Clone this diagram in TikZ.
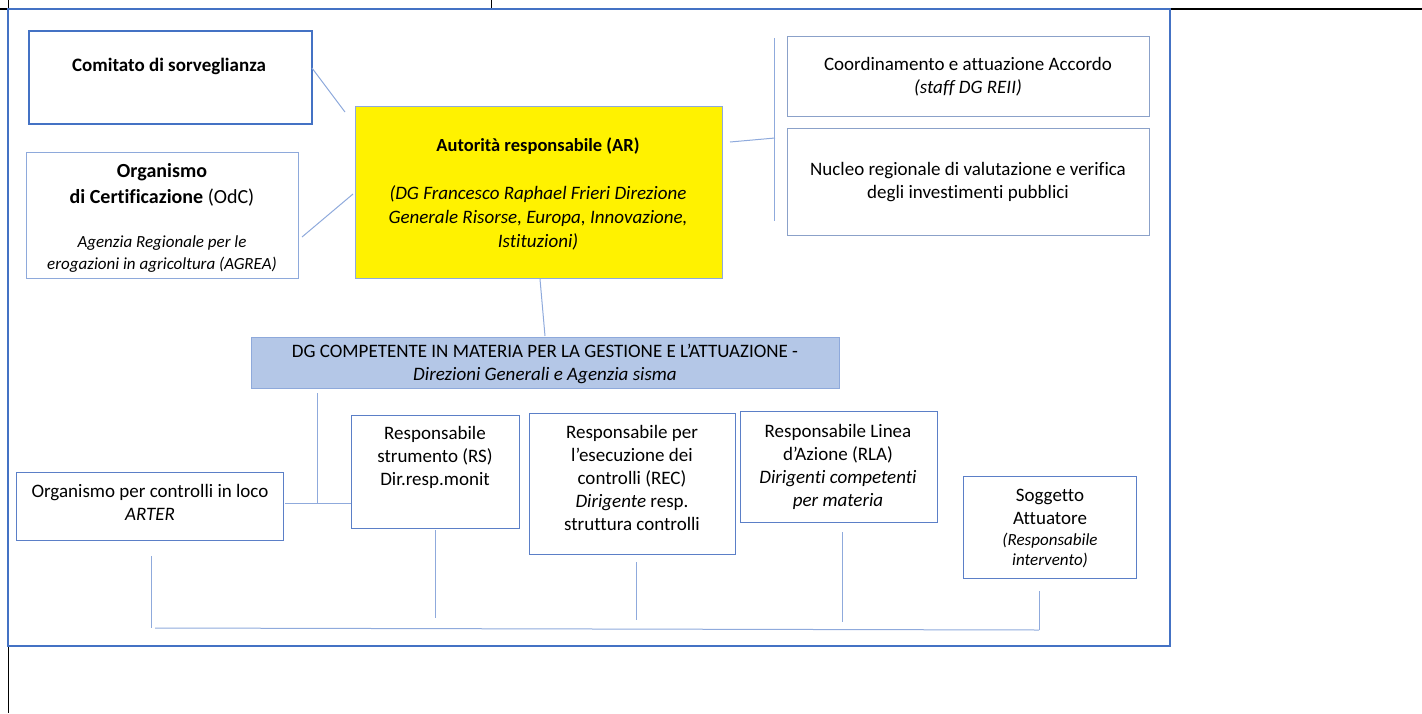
\documentclass[tikz,border=0pt]{standalone}
\usepackage{fontspec}
\setmainfont{Carlito}[Ligatures=NoCommon]
\definecolor{frameblue}{HTML}{4472C4}
\definecolor{boxblue}{HTML}{5B7FC7}
\definecolor{lightedge}{HTML}{8EA9DB}
\definecolor{linkblue}{HTML}{8FAADC}
\definecolor{bandfill}{HTML}{B4C7E7}
\tikzset{
  boxbase/.style={rectangle, draw=boxblue, line width=1pt, fill=white, anchor=north west, inner sep=0pt},
  strongbox/.style={boxbase, draw=frameblue, line width=1.6pt},
  softbox/.style={boxbase, draw=lightedge},
  txt/.style={align=center, inner sep=0pt, font=\fontsize{19}{23}\selectfont},
  link/.style={draw=linkblue, line width=1pt},
}
\begin{document}
\begin{tikzpicture}[x=1pt,y=-1pt]
\useasboundingbox (0,0) rectangle (1422,713);
% page lines
\draw[black, line width=1.4pt] (0,9) -- (1422,9);
\draw[black, line width=1pt] (8,0) -- (8,713);
\draw[black, line width=1pt] (491,0) -- (491,9);
% frame
\draw[frameblue, line width=2.2pt] (8,9) rectangle (1170,646);

% boxes
\node[strongbox, minimum width=283pt, minimum height=93pt] (com) at (28,30) {};
\node[txt, font=\fontsize{19}{23}\selectfont\bfseries] (comT) at (169,66) {Comitato di sorveglianza};

\node[softbox, minimum width=272pt, minimum height=126pt] (odc) at (26,152) {};
\node[txt, font=\fontsize{20}{26}\selectfont] (odcT) at (162,185) {\textbf{Organismo}\\\textbf{di Certificazione} (OdC)};
\node[txt, font=\fontsize{17}{22}\selectfont\itshape] (odcS) at (162,254) {Agenzia Regionale per le\\erogazioni in agricoltura (AGREA)};

\node[boxbase, draw=lightedge, fill=yellow, minimum width=367pt, minimum height=172pt] (ar) at (355,106) {};
\node[txt, font=\fontsize{18.5}{24}\selectfont\bfseries] (arT) at (538,146) {Autorità responsabile (AR)};
\node[txt, font=\fontsize{19}{24}\selectfont\itshape] (arS) at (538,218) {(DG Francesco Raphael Frieri Direzione\\Generale Risorse, Europa, Innovazione,\\Istituzioni)};

\node[boxbase, draw=lightedge!80!gray, minimum width=362pt, minimum height=80pt] (coo) at (787,36) {};
\node[txt] (cooT) at (968,77) {Coordinamento e attuazione Accordo\\\textit{(staff DG REII)}};

\node[boxbase, draw=lightedge!80!gray, minimum width=362pt, minimum height=107pt] (nuc) at (787,128) {};
\node[txt] (nucT) at (968,182) {Nucleo regionale di valutazione e verifica\\degli investimenti pubblici};

\node[boxbase, draw=lightedge, fill=bandfill, minimum width=588pt, minimum height=51pt] (dg) at (251,337) {};
\node[txt] (dgT) at (545,364) {DG COMPETENTE IN MATERIA PER LA GESTIONE E L’ATTUAZIONE -\\\textit{Direzioni Generali e Agenzia sisma}};

\node[boxbase, minimum width=267pt, minimum height=68pt] (oc) at (16,472) {};
\node[txt] (ocT) at (150,502) {Organismo per controlli in loco\\\textit{ARTER}};

\node[boxbase, minimum width=168pt, minimum height=113pt] (rs) at (351,415) {};
\node[txt] (rsT) at (435,457) {Responsabile\\strumento (RS)\\Dir.resp.monit};

\node[boxbase, minimum width=206pt, minimum height=141pt] (rec) at (529,413) {};
\node[txt] (recT) at (632,478) {Responsabile per\\l’esecuzione dei\\controlli (REC)\\\textit{Dirigente} resp.\\struttura controlli};

\node[boxbase, minimum width=197pt, minimum height=111pt] (rla) at (740,411) {};
\node[txt] (rlaT) at (838,467) {Responsabile Linea\\d’Azione (RLA)\\\textit{Dirigenti competenti}\\\textit{per materia}};

\node[boxbase, minimum width=173pt, minimum height=102pt] (sa) at (963,476) {};
\node[txt] (saT) at (1050,507) {Soggetto\\Attuatore};
\node[txt, font=\fontsize{17}{20}\selectfont\itshape] (saS) at (1050,550) {(Responsabile\\intervento)};

% connector coordinates
\coordinate (c1a) at (312,68);  \coordinate (c1b) at (345,112);
\coordinate (c2a) at (302,237); \coordinate (c2b) at (353,194);
\coordinate (c3a) at (730,142); \coordinate (c3b) at (775,138);
\coordinate (v3t) at (774,38);  \coordinate (v3b) at (774,221);
\coordinate (c4a) at (540,279); \coordinate (c4b) at (545,336);
\coordinate (c5t) at (317,393); \coordinate (c5j) at (317,503);
\coordinate (c5l) at (285,503);
\coordinate (b1) at (151,556); \coordinate (b1e) at (151,628);
\coordinate (b2) at (435,530); \coordinate (b2e) at (435,618);
\coordinate (b3) at (636,562); \coordinate (b3e) at (636,620);
\coordinate (b4) at (842,532); \coordinate (b4e) at (842,622);
\coordinate (b5) at (1039,591); \coordinate (b5e) at (1039,630);
\coordinate (hl) at (155,628);

\draw[link] (c1a) -- (c1b);
\draw[link] (c2a) -- (c2b);
\draw[link] (c3a) -- (c3b);
\draw[link] (v3t) -- (v3b);
\draw[link] (c4a) -- (c4b);
\draw[link] (c5t) -- (c5j);
\draw[link] (c5l) -- (rs.west |- c5j);
\draw[link] (b1) -- (b1e);
\draw[link] (b2) -- (b2e);
\draw[link] (b3) -- (b3e);
\draw[link] (b4) -- (b4e);
\draw[link] (b5) -- (b5e);
\draw[link] (hl) -- (b5e);
\end{tikzpicture}
\end{document}
